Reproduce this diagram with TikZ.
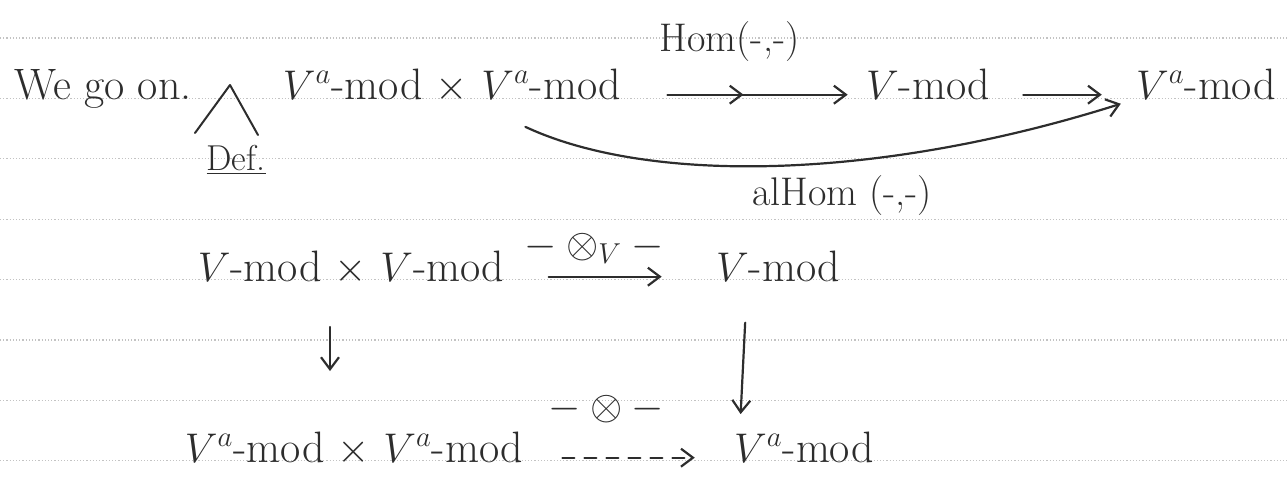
\documentclass[tikz,border=0pt]{standalone}
\usetikzlibrary{arrows.meta,decorations.markings}
\definecolor{ink}{RGB}{45,45,45}
\definecolor{ruling}{RGB}{195,195,195}
\tikzset{
  hand/.style={font=\fontsize{22}{26}\selectfont, text=ink, inner sep=2pt},
  lab/.style={font=\fontsize{20}{24}\selectfont, text=ink, inner sep=1pt},
  map/.style={draw=ink, line width=1.1pt, line cap=round, -{Straight Barb[length=6pt,width=9pt]}},
  midhead/.style={postaction={decorate}, decoration={markings,
      mark=at position 0.5 with {\arrow{Straight Barb[length=6pt,width=9pt]}}}},
}

\begin{document}
\begin{tikzpicture}[x=0.5pt, y=-0.5pt]
  \useasboundingbox (0,0) rectangle (1287,484);
  % ruled paper
  \foreach \k in {0,...,7}
    \draw[ruling, line width=0.6pt, densely dotted] (0,38+60.4*\k) -- (1287,38+60.4*\k);
  % first line: the definition
  \node[hand, anchor=base] (we) at (103,99) {We go on.};
  \node[lab, font=\fontsize{18}{22}\selectfont, anchor=base] (def) at (236,170) {\underline{Def.}};
  \draw[ink, line width=1pt, line cap=round, line join=round] (195,133) -- (230,85) -- (258,135);
  \node[hand, anchor=base] (homsrc) at (452,99) {$V^a$-mod $\times$ $V^a$-mod};
  \node[hand, anchor=base] (homtgt) at (928,99) {$V$-mod};
  \node[hand, anchor=base] (almtgt) at (1206,99) {$V^a$-mod};
  \draw[map, midhead, shorten <=21pt, shorten >=7pt] (homsrc.mid east) --
    node[lab, above=15pt, xshift=-7pt] (homlab) {Hom(-,-)} (homtgt.mid west);
  \draw[map, shorten <=14.5pt, shorten >=15pt] (homtgt.mid east) -- (almtgt.mid west);
  % the composite, curved underneath
  \draw[map] ([xshift=-50pt,yshift=-10pt]homsrc.south east)
    .. controls (650,185) and (880,180) .. ([xshift=-5.5pt]almtgt.south west);
  \node[lab, anchor=base] (almlab) at (842,205) {alHom (-,-)};
  % square
  \node[hand, anchor=base] (tensrc) at (351,281) {$V$-mod $\times$ $V$-mod};
  \node[hand, anchor=base] (tentgt) at (778,281) {$V$-mod};
  \node[hand, anchor=base] (atesrc) at (354,462) {$V^a$-mod $\times$ $V^a$-mod};
  \node[hand, anchor=base] (atetgt) at (804,462) {$V^a$-mod};
  \draw[map, shorten <=20pt, shorten >=25pt] (tensrc.mid east) --
    node[lab, above=5pt, xshift=-8pt] (tenlab) {$-\otimes_V-$} (tentgt.mid west);
  \draw[map, shorten <=19pt, shorten >=28pt] ([xshift=-10.5pt]tensrc.south) -- ([xshift=-12pt]atesrc.north);
  \draw[map, shorten <=18.5pt, shorten >=6.5pt] ([xshift=-15.5pt]tentgt.south) -- ([xshift=-32pt]atetgt.north);
  \draw[map, dash pattern=on 6pt off 5pt, shorten <=17.5pt, shorten >=17.5pt] (atesrc.mid east) --
    node[lab, above=16pt, xshift=-11pt] (atelab) {$-\otimes-$} (atetgt.mid west);
\end{tikzpicture}
\end{document}
